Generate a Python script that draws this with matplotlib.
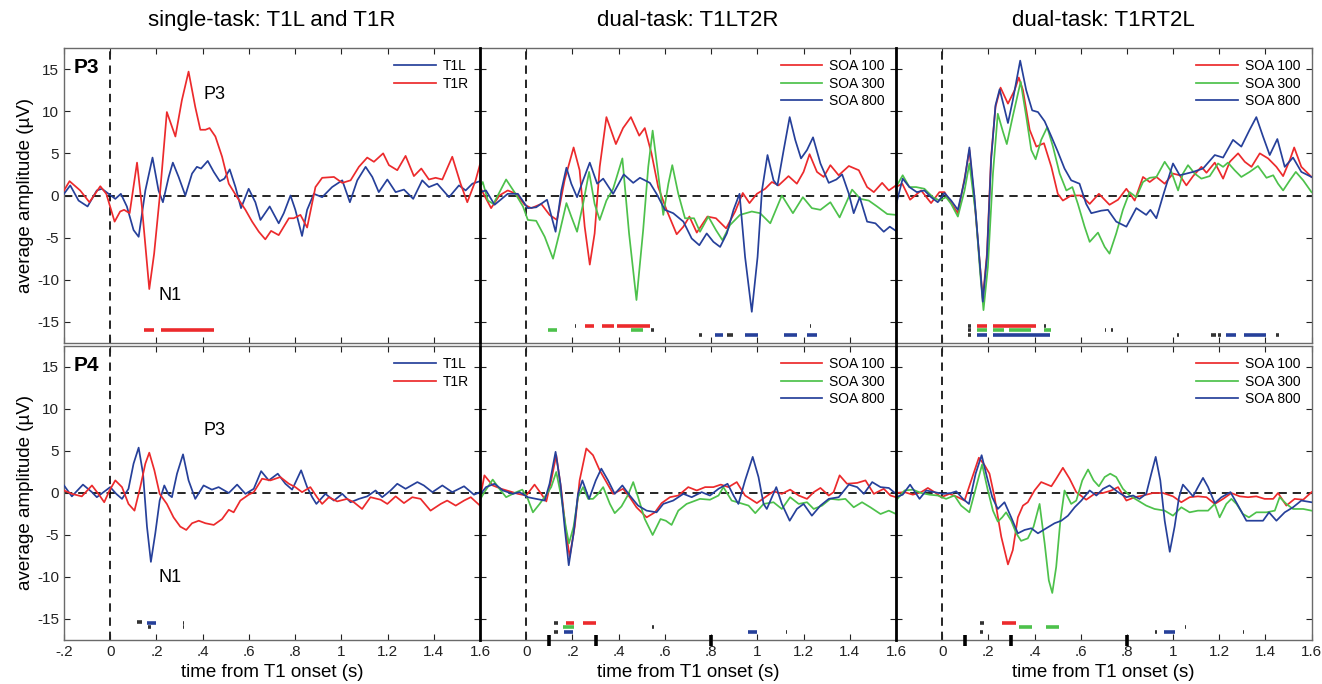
import numpy as np
import matplotlib
matplotlib.use("Agg")
import matplotlib.pyplot as plt

plt.rcParams['font.family'] = ['Liberation Sans', 'DejaVu Sans']

# ---------------- datos (t en s, amplitud en uV) ----------------
# P3, tarea simple
p3_single_t1l = [(-0.2, 0.2), (-0.173, 1.2), (-0.137, -0.6), (-0.098, -1.3), (-0.058, 0.6), (-0.036, 0.8),
                 (-0.007, 0.2), (0.022, -0.4), (0.046, 0.2), (0.072, -1.3), (0.101, -4.1), (0.123, -4.9),
                 (0.152, 0.6), (0.183, 4.5), (0.209, 0.6), (0.228, -0.8), (0.253, 2.2), (0.271, 3.9),
                 (0.296, 2.2), (0.325, 0.0), (0.354, 2.6), (0.375, 3.4), (0.393, 3.2), (0.422, 4.1),
                 (0.448, 2.8), (0.474, 1.7), (0.494, 2.0), (0.517, 3.1), (0.542, 1.0), (0.566, -1.5),
                 (0.599, 0.8), (0.628, -0.8), (0.65, -2.9), (0.69, -1.3), (0.729, -3.3), (0.751, -2.1),
                 (0.78, 0.0), (0.801, -1.7), (0.83, -4.8), (0.852, -1.7), (0.881, 0.2), (0.917, -0.2),
                 (0.96, 1.0), (1.004, 1.8), (1.037, -0.8), (1.069, 1.8), (1.105, 3.4), (1.134, 2.2),
                 (1.162, 0.4), (1.199, 1.9), (1.235, 0.4), (1.271, 0.7), (1.311, -0.4), (1.35, 1.8),
                 (1.379, 1.0), (1.415, 1.4), (1.466, -0.2), (1.509, 1.2), (1.538, 0.6), (1.567, 1.4),
                 (1.6, 1.7)]
p3_single_t1r = [(-0.2, 0.6), (-0.176, 1.7), (-0.13, 0.6), (-0.09, -0.8), (-0.043, 1.1), (-0.017, 0.2),
                 (0.019, -3.1), (0.043, -1.9), (0.06, -1.7), (0.084, -2.1), (0.116, 3.9), (0.137, -1.3),
                 (0.169, -11.1), (0.19, -6.9), (0.214, -0.2), (0.245, 9.9), (0.282, 7.0), (0.31, 11.3),
                 (0.339, 14.7), (0.368, 10.5), (0.39, 7.8), (0.412, 7.8), (0.43, 8.0), (0.455, 7.0),
                 (0.484, 4.6), (0.513, 1.4), (0.549, -0.2), (0.585, -1.7), (0.614, -3.1), (0.643, -4.3),
                 (0.671, -5.2), (0.696, -4.2), (0.729, -4.7), (0.773, -2.7), (0.794, -2.7), (0.823, -2.3),
                 (0.852, -3.8), (0.888, 1.0), (0.917, 2.1), (0.968, 2.2), (1.004, 1.5), (1.04, 1.8),
                 (1.076, 3.4), (1.112, 4.5), (1.141, 4.0), (1.181, 5.0), (1.206, 3.6), (1.242, 3.0),
                 (1.278, 4.7), (1.314, 2.3), (1.346, 3.2), (1.379, 1.9), (1.408, 2.1), (1.437, 1.9),
                 (1.48, 4.6), (1.516, 1.4), (1.545, -0.8), (1.581, 1.8), (1.6, 3.7)]

# P3, doble tarea T1LT2R
p3_lr_soa100 = [(-0.2, 1.0), (-0.152, -1.5), (-0.116, 0.0), (-0.08, 0.6), (-0.043, 0.2), (-0.007, -1.1),
                (0.022, -1.5), (0.065, -1.0), (0.101, -2.3), (0.133, -2.9), (0.166, 1.8), (0.205, 5.7),
                (0.231, 3.0), (0.253, -3.7), (0.275, -8.2), (0.296, -4.5), (0.318, 3.4), (0.347, 9.3),
                (0.388, 6.1), (0.419, 8.0), (0.453, 9.3), (0.489, 7.1), (0.513, 8.0), (0.542, 5.0),
                (0.571, 1.0), (0.607, -1.7), (0.651, -4.6), (0.68, -3.7), (0.706, -2.5), (0.738, -4.4),
                (0.784, -2.5), (0.821, -2.7), (0.865, -3.9), (0.904, -1.9), (0.937, 0.3), (0.966, -0.9),
                (0.998, 0.2), (1.034, 0.8), (1.063, 1.6), (1.092, 1.2), (1.135, 2.3), (1.171, 1.4),
                (1.2, 2.8), (1.226, 4.9), (1.258, 2.8), (1.287, 2.2), (1.316, 3.6), (1.352, 2.4),
                (1.396, 3.5), (1.439, 3.0), (1.475, 1.0), (1.504, 0.4), (1.54, 1.5), (1.569, 0.6),
                (1.6, 1.2)]
p3_lr_soa300 = [(-0.2, 1.0), (-0.188, 1.6), (-0.166, -0.6), (-0.142, -1.0), (-0.087, 1.9), (-0.051, 0.4),
                (-0.014, -1.3), (0.007, -2.9), (0.043, -3.0), (0.08, -4.9), (0.116, -7.5), (0.145, -4.3),
                (0.174, -0.9), (0.195, -2.5), (0.22, -4.3), (0.246, -1.0), (0.272, 2.8), (0.296, -1.0),
                (0.318, -2.9), (0.347, -0.6), (0.376, 0.8), (0.416, 4.4), (0.445, -4.5), (0.477, -12.4),
                (0.506, -4.1), (0.528, 3.4), (0.547, 7.7), (0.567, 3.4), (0.593, -2.3), (0.615, 1.4),
                (0.632, 3.6), (0.658, 0.2), (0.687, -2.7), (0.726, -2.7), (0.752, -4.3), (0.788, -2.5),
                (0.821, -4.1), (0.849, -5.3), (0.882, -3.5), (0.925, -2.3), (0.976, -1.9), (1.012, -2.1),
                (1.056, -3.3), (1.106, 0.0), (1.154, -2.1), (1.197, -0.2), (1.236, -1.5), (1.273, -1.7),
                (1.316, -0.8), (1.356, -2.6), (1.41, 0.7), (1.446, -0.4), (1.482, -0.6), (1.518, -1.3),
                (1.562, -2.2), (1.6, -2.3)]
p3_lr_soa800 = [(-0.2, 0.4), (-0.174, 0.6), (-0.137, -1.1), (-0.08, 0.2), (-0.036, 0.2), (0.007, -1.5),
                (0.043, -1.4), (0.09, -0.5), (0.127, -4.3), (0.152, 0.6), (0.174, 3.3), (0.195, 1.4),
                (0.22, -0.2), (0.246, 1.8), (0.275, 3.9), (0.307, 1.4), (0.333, 2.0), (0.376, 0.2),
                (0.422, 2.5), (0.463, 1.5), (0.492, 2.1), (0.535, 1.5), (0.564, 0.2), (0.6, -1.7),
                (0.636, -2.1), (0.68, -3.1), (0.716, -5.1), (0.749, -5.9), (0.781, -4.5), (0.81, -5.5),
                (0.839, -6.1), (0.868, -4.5), (0.897, -1.7), (0.923, 0.2), (0.947, -7.3), (0.976, -13.8),
                (1.001, -7.3), (1.02, 0.6), (1.044, 4.8), (1.07, 1.8), (1.087, 1.2), (1.114, 5.4),
                (1.14, 9.3), (1.164, 6.6), (1.189, 4.4), (1.215, 5.4), (1.241, 6.9), (1.273, 3.8),
                (1.309, 1.5), (1.342, 1.9), (1.367, 2.5), (1.396, 0.2), (1.417, -2.1), (1.443, -0.2),
                (1.475, -3.1), (1.511, -3.3), (1.547, -4.3), (1.573, -3.7), (1.6, -4.2)]

# P3, doble tarea T1RT2L
p3_rl_soa100 = [(-0.2, 1.0), (-0.173, 1.4), (-0.139, -0.5), (-0.091, 0.6), (-0.048, -0.9), (-0.012, 0.4),
                (0.01, 0.4), (0.032, -0.6), (0.068, -2.1), (0.101, 2.6), (0.118, 5.4), (0.14, -0.6),
                (0.162, -7.7), (0.176, -12.2), (0.194, -6.9), (0.212, 4.6), (0.231, 10.5), (0.253, 12.8),
                (0.285, 10.9), (0.314, 12.5), (0.332, 14.0), (0.35, 12.5), (0.379, 7.8), (0.408, 5.8),
                (0.441, 6.2), (0.473, 3.4), (0.501, 0.2), (0.523, -0.6), (0.559, 0.0), (0.603, 0.0),
                (0.639, -1.0), (0.679, 0.2), (0.725, -1.1), (0.762, -0.5), (0.798, 0.8), (0.834, -0.6),
                (0.87, 2.2), (0.899, 1.6), (0.928, 2.2), (0.964, 1.4), (1.0, 2.6), (1.029, 2.4),
                (1.058, 1.2), (1.087, 2.3), (1.123, 3.4), (1.145, 2.7), (1.181, 3.9), (1.217, 2.0),
                (1.246, 4.0), (1.282, 5.0), (1.311, 4.0), (1.34, 3.4), (1.376, 5.0), (1.412, 4.4),
                (1.448, 3.4), (1.477, 2.3), (1.506, 4.2), (1.525, 5.7), (1.556, 3.4), (1.6, 2.2)]
p3_rl_soa300 = [(-0.2, 1.0), (-0.171, 2.4), (-0.142, 1.0), (-0.113, 1.0), (-0.077, 0.8), (-0.04, -0.2),
                (-0.012, -0.6), (0.017, -0.2), (0.039, -1.0), (0.068, -2.5), (0.097, 0.6), (0.118, 3.8),
                (0.145, -2.1), (0.165, -9.3), (0.179, -13.6), (0.198, -8.5), (0.22, 2.6), (0.241, 9.7),
                (0.263, 7.6), (0.28, 6.1), (0.306, 9.4), (0.34, 13.5), (0.364, 9.4), (0.386, 5.4),
                (0.405, 4.3), (0.429, 6.6), (0.455, 8.1), (0.48, 5.8), (0.509, 2.6), (0.538, 0.6),
                (0.564, 1.0), (0.588, -1.0), (0.617, -3.7), (0.639, -5.5), (0.675, -4.4), (0.704, -6.1),
                (0.725, -6.9), (0.754, -4.5), (0.783, -1.7), (0.812, 0.4), (0.841, -0.2), (0.87, 1.6),
                (0.899, 2.1), (0.928, 2.2), (0.964, 4.0), (0.993, 2.8), (1.022, 0.6), (1.043, 2.6),
                (1.065, 3.6), (1.094, 2.6), (1.123, 2.0), (1.159, 2.3), (1.195, 3.8), (1.217, 3.4),
                (1.238, 3.9), (1.267, 3.0), (1.296, 2.2), (1.332, 2.8), (1.368, 3.5), (1.405, 2.1),
                (1.434, 2.4), (1.455, 1.4), (1.477, 0.6), (1.506, 1.8), (1.532, 2.8), (1.564, 1.8),
                (1.6, 0.4)]
p3_rl_soa800 = [(-0.2, -1.1), (-0.171, 2.0), (-0.142, 1.0), (-0.11, 0.4), (-0.077, 0.6), (-0.048, -0.2),
                (-0.019, -0.8), (0.01, 0.3), (0.039, -0.6), (0.068, -1.7), (0.097, 1.8), (0.118, 5.7),
                (0.14, -0.2), (0.162, -7.7), (0.176, -12.6), (0.194, -7.3), (0.212, 4.2), (0.231, 10.7),
                (0.249, 12.6), (0.27, 10.3), (0.285, 8.6), (0.306, 11.3), (0.338, 16.0), (0.364, 12.5),
                (0.39, 10.1), (0.415, 9.9), (0.444, 8.8), (0.473, 7.0), (0.501, 5.2), (0.53, 3.2),
                (0.559, 1.8), (0.595, 1.4), (0.624, -1.0), (0.646, -2.1), (0.689, -1.8), (0.718, -1.7),
                (0.754, -3.1), (0.798, -3.7), (0.841, -1.5), (0.884, -2.3), (0.902, -1.7), (0.928, -2.7),
                (0.957, 0.0), (1.0, 3.8), (1.029, 2.4), (1.058, 2.6), (1.087, 2.8), (1.13, 3.2),
                (1.181, 4.8), (1.217, 4.5), (1.26, 6.6), (1.296, 5.8), (1.332, 7.8), (1.361, 9.3),
                (1.39, 7.0), (1.419, 4.8), (1.452, 6.7), (1.484, 3.4), (1.52, 4.5), (1.556, 2.8),
                (1.6, 2.2)]

# P4, tarea simple
p4_single_t1l = [(-0.2, 0.9), (-0.166, -0.4), (-0.118, 1.0), (-0.079, 0.1), (-0.058, -0.5), (-0.029, 0.1),
                 (0.0, 0.7), (0.026, -0.1), (0.051, -0.7), (0.079, 0.5), (0.101, 3.5), (0.123, 5.4),
                 (0.142, 2.3), (0.159, -4.0), (0.176, -8.2), (0.195, -4.8), (0.214, -0.9), (0.234, 0.9),
                 (0.253, -0.2), (0.267, -0.5), (0.289, 2.3), (0.315, 4.6), (0.339, 1.5), (0.368, -0.7),
                 (0.404, 0.9), (0.44, 0.4), (0.469, 0.7), (0.513, 0.0), (0.549, 1.0), (0.585, -0.1),
                 (0.621, 0.5), (0.653, 2.6), (0.686, 1.5), (0.725, 2.3), (0.758, 1.1), (0.787, 0.4),
                 (0.826, 2.7), (0.852, 0.7), (0.874, -0.5), (0.892, -1.3), (0.931, -0.1), (0.968, -0.9),
                 (1.004, -0.1), (1.04, -1.1), (1.076, -0.7), (1.112, -0.4), (1.148, 0.3), (1.177, -0.5),
                 (1.213, 0.3), (1.242, 1.1), (1.278, 0.5), (1.329, 1.3), (1.357, 0.9), (1.394, 0.1),
                 (1.437, 0.9), (1.48, 0.1), (1.531, 0.8), (1.574, -0.2), (1.6, 0.1)]
p4_single_t1r = [(-0.2, 0.3), (-0.166, -0.1), (-0.123, -0.4), (-0.079, 0.9), (-0.046, -0.3), (-0.026, -1.1),
                 (-0.003, 0.3), (0.022, 1.5), (0.051, 0.7), (0.079, -1.3), (0.105, -2.1), (0.13, 0.7),
                 (0.152, 3.5), (0.169, 4.8), (0.191, 2.7), (0.214, -0.1), (0.245, -1.3), (0.274, -2.9),
                 (0.303, -4.0), (0.329, -4.4), (0.354, -3.6), (0.383, -3.3), (0.412, -3.6), (0.448, -3.8),
                 (0.484, -3.1), (0.513, -2.0), (0.534, -2.3), (0.563, -0.9), (0.599, -0.2), (0.621, 0.1),
                 (0.657, 1.7), (0.693, 1.5), (0.736, 1.9), (0.773, 1.1), (0.801, 0.7), (0.83, 0.1),
                 (0.866, 0.7), (0.895, -0.5), (0.917, -1.3), (0.946, -0.5), (0.982, -1.0), (1.025, -0.7),
                 (1.054, -1.1), (1.09, -1.9), (1.126, -0.5), (1.17, -0.8), (1.199, -1.3), (1.235, -0.4),
                 (1.271, -1.2), (1.307, -0.5), (1.343, -0.7), (1.386, -2.1), (1.43, -1.3), (1.458, -0.9),
                 (1.495, -1.5), (1.531, -0.9), (1.56, -0.5), (1.6, -1.5)]

# P4, doble tarea T1LT2R
p4_lr_soa100 = [(-0.2, -0.7), (-0.181, 2.1), (-0.145, 0.9), (-0.108, 0.5), (-0.072, 0.2), (-0.036, -0.1),
                (0.0, -0.3), (0.036, 1.0), (0.065, -0.1), (0.087, -1.0), (0.108, 1.5), (0.13, 4.5),
                (0.152, 0.3), (0.171, -4.4), (0.188, -7.6), (0.21, -4.0), (0.231, 1.5), (0.26, 5.3),
                (0.289, 4.5), (0.318, 2.7), (0.347, 1.3), (0.376, -0.1), (0.419, 0.5), (0.448, -0.5),
                (0.477, -1.7), (0.521, -2.9), (0.557, -2.3), (0.586, -1.2), (0.622, -0.5), (0.658, -0.3),
                (0.701, 0.7), (0.738, 0.3), (0.774, 0.7), (0.81, 0.7), (0.842, 1.0), (0.875, 0.7),
                (0.911, 1.3), (0.947, -0.3), (0.998, -1.2), (1.034, -0.5), (1.07, 0.2), (1.106, -0.1),
                (1.142, 0.4), (1.179, -0.3), (1.215, -0.7), (1.244, 0.1), (1.273, 0.6), (1.309, -0.3),
                (1.33, 0.1), (1.356, 2.1), (1.388, 1.1), (1.432, 1.2), (1.468, 1.5), (1.504, -0.1),
                (1.547, 0.5), (1.576, -0.3), (1.6, -0.5)]
p4_lr_soa300 = [(-0.2, -0.8), (-0.181, 0.1), (-0.145, 1.6), (-0.116, 0.5), (-0.087, -0.5), (-0.051, 0.0),
                (-0.017, 0.4), (0.007, -0.7), (0.029, -2.3), (0.058, -1.3), (0.087, -0.2), (0.108, 0.7),
                (0.13, 2.5), (0.152, -0.5), (0.171, -4.0), (0.185, -6.0), (0.205, -4.0), (0.224, -0.5),
                (0.246, 0.7), (0.268, -0.7), (0.289, -0.7), (0.311, -0.1), (0.333, 0.7), (0.362, -1.3),
                (0.383, -2.4), (0.412, -1.6), (0.441, -0.2), (0.463, 1.3), (0.484, -0.5), (0.513, -3.1),
                (0.547, -5.0), (0.581, -3.1), (0.604, -3.3), (0.629, -3.8), (0.658, -2.1), (0.694, -1.3),
                (0.752, -0.7), (0.795, -0.8), (0.832, -0.3), (0.853, 0.7), (0.889, -0.9), (0.926, -1.2),
                (0.962, -1.5), (0.991, -2.4), (1.027, -1.3), (1.07, -1.1), (1.106, -1.9), (1.142, -0.5),
                (1.179, -1.3), (1.215, -1.1), (1.244, -1.9), (1.28, -1.5), (1.316, -0.7), (1.352, -0.8),
                (1.381, -0.7), (1.417, -1.7), (1.453, -1.1), (1.489, -1.7), (1.533, -2.5), (1.569, -2.1),
                (1.6, -2.5)]
p4_lr_soa800 = [(-0.2, -0.2), (-0.174, 0.7), (-0.137, 1.1), (-0.101, 0.3), (-0.058, -0.1), (-0.029, 0.1),
                (0.007, -0.5), (0.043, -0.7), (0.08, -0.9), (0.101, 1.1), (0.127, 4.9), (0.148, 1.1),
                (0.166, -4.0), (0.184, -8.6), (0.205, -4.8), (0.224, -0.1), (0.243, 1.5), (0.272, -0.7),
                (0.301, 1.5), (0.325, 2.9), (0.354, 1.5), (0.383, -0.1), (0.416, 0.9), (0.448, -0.3),
                (0.484, -1.5), (0.521, -2.1), (0.564, -2.3), (0.593, -1.3), (0.636, -0.9), (0.68, -0.1),
                (0.716, -0.5), (0.759, 0.1), (0.795, -0.3), (0.832, 0.5), (0.871, 1.1), (0.897, -0.3),
                (0.918, -1.3), (0.947, 1.5), (0.98, 4.3), (1.005, 1.9), (1.027, -1.3), (1.041, -1.9),
                (1.063, -0.5), (1.082, 0.7), (1.106, -1.3), (1.14, -3.3), (1.171, -1.9), (1.2, -1.3),
                (1.236, -2.7), (1.273, -1.5), (1.309, -0.7), (1.352, -0.5), (1.396, 1.0), (1.432, 0.7),
                (1.461, -0.1), (1.497, 1.3), (1.533, 0.7), (1.569, 0.6), (1.6, -0.1)]

# P4, doble tarea T1RT2L
p4_rl_soa100 = [(-0.2, 0.0), (-0.163, 0.1), (-0.127, -0.2), (-0.091, 0.1), (-0.062, 0.6), (-0.033, 0.1),
                (-0.004, -0.5), (0.032, -0.1), (0.068, -0.5), (0.097, -0.9), (0.126, 1.5), (0.159, 4.2),
                (0.184, 3.3), (0.205, 2.3), (0.227, -0.5), (0.256, -5.2), (0.285, -8.5), (0.306, -6.8),
                (0.328, -2.9), (0.35, -1.5), (0.371, -1.1), (0.4, 0.3), (0.429, 1.3), (0.473, 0.8),
                (0.494, 1.7), (0.523, 3.0), (0.552, 1.7), (0.581, 0.1), (0.624, -0.8), (0.66, -0.1),
                (0.697, 0.0), (0.733, 0.3), (0.762, 0.7), (0.798, -0.9), (0.834, -0.5), (0.87, -0.3),
                (0.913, 0.0), (0.957, 0.0), (1.0, -0.4), (1.036, -1.1), (1.072, -0.5), (1.108, -0.4),
                (1.145, -0.5), (1.181, -1.3), (1.217, -0.7), (1.253, 0.0), (1.289, -0.4), (1.325, -0.5),
                (1.361, -0.4), (1.397, -0.7), (1.434, -0.7), (1.455, 0.0), (1.491, -1.5), (1.527, -0.7),
                (1.564, -0.8), (1.6, 0.1)]
p4_rl_soa300 = [(-0.2, -0.9), (-0.163, 0.3), (-0.127, 0.4), (-0.091, 0.0), (-0.055, -0.2), (-0.019, -0.3),
                (0.017, -0.7), (0.053, -0.3), (0.082, -1.5), (0.118, -2.3), (0.147, 0.7), (0.173, 3.4),
                (0.198, 0.3), (0.22, -2.1), (0.241, -3.4), (0.26, -2.9), (0.277, -2.3), (0.299, -3.3),
                (0.321, -4.8), (0.342, -5.7), (0.371, -5.4), (0.396, -4.0), (0.422, -1.3), (0.444, -6.0),
                (0.462, -10.4), (0.477, -11.9), (0.494, -8.8), (0.512, -3.3), (0.53, 0.3), (0.559, -1.3),
                (0.581, -0.9), (0.607, 1.5), (0.632, 2.8), (0.656, 1.5), (0.679, 0.8), (0.704, 1.9),
                (0.728, 2.3), (0.754, 1.9), (0.783, 0.5), (0.812, -0.3), (0.848, -0.9), (0.884, -1.5),
                (0.92, -1.9), (0.964, -2.1), (1.0, -2.7), (1.036, -1.7), (1.072, -2.3), (1.108, -2.1),
                (1.152, -2.1), (1.181, -1.3), (1.202, -2.9), (1.231, -1.3), (1.253, -0.7), (1.275, -1.3),
                (1.303, -2.5), (1.329, -2.9), (1.361, -2.3), (1.405, -2.3), (1.441, -2.1), (1.462, -0.5),
                (1.491, -1.3), (1.52, -1.9), (1.564, -1.9), (1.6, -2.1)]
p4_rl_soa800 = [(-0.2, -0.5), (-0.171, -0.2), (-0.139, 1.0), (-0.098, -0.7), (-0.069, 0.3), (-0.033, 0.1),
                (0.003, -0.1), (0.039, 0.0), (0.061, 0.2), (0.09, -0.7), (0.116, -1.3), (0.145, 2.3),
                (0.171, 4.5), (0.194, 1.9), (0.217, -0.5), (0.241, -1.9), (0.27, -1.1), (0.299, -2.9),
                (0.328, -4.8), (0.357, -4.4), (0.386, -4.2), (0.415, -4.8), (0.451, -4.2), (0.487, -3.6),
                (0.516, -3.3), (0.545, -2.7), (0.574, -1.7), (0.603, -0.9), (0.639, 0.3), (0.668, -0.3),
                (0.697, 0.5), (0.725, 0.9), (0.762, 0.1), (0.798, -0.5), (0.827, -0.3), (0.855, -0.7),
                (0.884, -0.1), (0.906, 2.3), (0.925, 4.3), (0.945, 1.5), (0.964, -3.3), (0.986, -7.0),
                (1.007, -4.0), (1.026, -0.5), (1.043, 1.0), (1.065, 0.3), (1.087, -0.4), (1.108, 0.7),
                (1.13, 1.8), (1.152, 0.7), (1.181, -1.2), (1.21, -0.5), (1.249, 0.1), (1.282, -1.5),
                (1.318, -3.3), (1.361, -3.3), (1.39, -3.3), (1.416, -2.3), (1.448, -3.3), (1.484, -2.3),
                (1.52, -1.7), (1.556, -0.9), (1.6, -1.1)]

# barras de significacion: (t inicio, t fin, nivel, color)
p3_single_bars = [(0.148, 0.190, -16.0, 'r'), (0.219, 0.451, -16.0, 'r')]
p3_lr_bars = [(0.094, 0.133, -16.0, 'g'), (0.209, 0.217, -15.5, 'k'), (0.256, 0.294, -15.5, 'r'),
              (0.326, 0.380, -15.5, 'r'), (0.393, 0.535, -15.5, 'r'), (0.455, 0.506, -16.0, 'g'),
              (0.538, 0.555, -16.0, 'k'), (0.737, 0.741, -15.5, 'k'), (0.748, 0.760, -16.5, 'k'),
              (0.816, 0.852, -16.5, 'b'), (0.867, 0.896, -16.5, 'k'), (0.946, 1.003, -16.5, 'b'),
              (1.116, 1.172, -16.5, 'b'), (1.230, 1.234, -15.5, 'k'), (1.216, 1.259, -16.5, 'b')]
p3_rl_bars = [(0.111, 0.126, -15.5, 'k'), (0.111, 0.126, -16.0, 'k'), (0.111, 0.126, -16.5, 'k'),
              (0.151, 0.195, -15.5, 'r'), (0.151, 0.195, -16.0, 'g'), (0.151, 0.195, -16.5, 'b'),
              (0.219, 0.407, -15.5, 'r'), (0.219, 0.270, -16.0, 'g'), (0.291, 0.385, -16.0, 'g'),
              (0.443, 0.472, -16.0, 'g'), (0.219, 0.465, -16.5, 'b'), (0.443, 0.448, -15.5, 'k'),
              (0.705, 0.709, -16.0, 'k'), (0.730, 0.738, -16.0, 'k'), (1.018, 1.028, -16.5, 'k'),
              (1.164, 1.186, -16.5, 'k'), (1.197, 1.208, -16.5, 'k'), (1.229, 1.275, -16.5, 'b'),
              (1.309, 1.403, -16.5, 'b'), (1.446, 1.460, -16.5, 'k')]
p4_single_bars = [(0.116, 0.137, -15.4, 'k'), (0.159, 0.199, -15.5, 'b'), (0.163, 0.177, -15.9, 'k'),
                  (0.314, 0.320, -15.5, 'k'), (0.314, 0.320, -15.9, 'k')]
p4_lr_bars = [(0.119, 0.138, -15.5, 'k'), (0.120, 0.138, -16.5, 'k'), (0.170, 0.207, -15.5, 'r'),
              (0.159, 0.207, -16.0, 'g'), (0.165, 0.203, -16.5, 'b'), (0.246, 0.304, -15.5, 'r'),
              (0.544, 0.554, -16.0, 'k'), (0.960, 0.997, -16.5, 'b'), (1.125, 1.128, -16.5, 'k')]
p4_rl_bars = [(0.164, 0.182, -15.5, 'k'), (0.164, 0.177, -16.5, 'k'), (0.258, 0.320, -15.5, 'r'),
              (0.332, 0.390, -16.0, 'g'), (0.450, 0.508, -16.0, 'g'), (0.921, 0.931, -16.5, 'k'),
              (0.962, 1.008, -16.5, 'b'), (1.052, 1.055, -16.0, 'k'), (1.180, 1.184, -16.0, 'k'),
              (1.302, 1.306, -16.5, 'k')]

# inicio de T2 (SOA) en s
soa_onsets = [0.1, 0.3, 0.8]

titles = ["single-task: T1L and T1R", "dual-task: T1LT2R", "dual-task: T1RT2L"]
xticks = [-0.2, 0, 0.2, 0.4, 0.6, 0.8, 1.0, 1.2, 1.4, 1.6]
yticks = [-15, -10, -5, 0, 5, 10, 15]

ROJO = '#ec2a2c'
VERDE = '#4dc14b'
AZUL = '#26409a'
NEGRO = '#333333'
colores = {'r': ROJO, 'g': VERDE, 'b': AZUL, 'k': NEGRO}


def etiqueta(x):
    if abs(x) < 1e-9:
        return '0'
    s = f'{x:g}'
    return s.replace('0.', '.')


fig = plt.figure(figsize=(13.22, 6.84), dpi=100)
W, H = 1322.0, 684.0
col_x = [64, 480, 896]
col_w = [416, 416, 415.5]
row_y = [(48, 343), (346, 640)]

axes = [[None] * 3 for _ in range(2)]
for r in range(2):
    for c in range(3):
        top, bot = row_y[r]
        axes[r][c] = fig.add_axes([col_x[c] / W, 1 - bot / H, col_w[c] / W, (bot - top) / H])

paneles = [
    [([p3_single_t1l, p3_single_t1r], ['T1L', 'T1R'], [AZUL, ROJO], p3_single_bars),
     ([p3_lr_soa100, p3_lr_soa300, p3_lr_soa800], ['SOA 100', 'SOA 300', 'SOA 800'], [ROJO, VERDE, AZUL], p3_lr_bars),
     ([p3_rl_soa100, p3_rl_soa300, p3_rl_soa800], ['SOA 100', 'SOA 300', 'SOA 800'], [ROJO, VERDE, AZUL], p3_rl_bars)],
    [([p4_single_t1l, p4_single_t1r], ['T1L', 'T1R'], [AZUL, ROJO], p4_single_bars),
     ([p4_lr_soa100, p4_lr_soa300, p4_lr_soa800], ['SOA 100', 'SOA 300', 'SOA 800'], [ROJO, VERDE, AZUL], p4_lr_bars),
     ([p4_rl_soa100, p4_rl_soa300, p4_rl_soa800], ['SOA 100', 'SOA 300', 'SOA 800'], [ROJO, VERDE, AZUL], p4_rl_bars)],
]

for r in range(2):
    for c in range(3):
        ax = axes[r][c]
        curvas, nombres, cols, barras = paneles[r][c]
        ax.axhline(0, color='k', lw=1.2, dashes=(5, 3.5), zorder=1)
        ax.axvline(0, color='k', lw=1.2, dashes=(5, 3.5), zorder=1)
        for datos, nom, col in zip(curvas, nombres, cols):
            d = np.array(datos)
            ax.plot(d[:, 0], d[:, 1], color=col, lw=1.25, label=nom, zorder=3,
                    solid_joinstyle='round')
        for t0, t1, lev, ck in barras:
            ax.plot([t0, t1], [lev, lev], color=colores[ck], lw=2.6, solid_capstyle='butt', zorder=4)
        if r == 1 and c > 0:
            for s in soa_onsets:
                ax.plot([s, s], [-16.9, -18.2], color='k', lw=2.6, solid_capstyle='butt',
                        clip_on=False, zorder=6)

        ax.set_xlim(-0.2, 1.6)
        ax.set_ylim(-17.5, 17.5)
        ax.set_xticks(xticks)
        ax.set_yticks(yticks)
        ax.tick_params(direction='in', top=True, right=True, length=4, width=0.8,
                       labelsize=11, colors='#222222')
        if r == 1:
            labs = [etiqueta(x) for x in xticks]
            if c > 0:
                labs[0] = ''
            ax.set_xticklabels(labs)
            ax.set_xlabel("time from T1 onset (s)", fontsize=13.5, labelpad=4)
        else:
            ax.set_xticklabels([])
            ax.set_title(titles[c], fontsize=16, pad=16)
        if c == 0:
            ax.set_yticklabels([etiqueta(y) for y in yticks])
            ax.set_ylabel("average amplitude (µV)", fontsize=13.5, labelpad=2)
        else:
            ax.set_yticklabels([])

        for sp in ax.spines.values():
            sp.set_color('#6a6a6a')
            sp.set_linewidth(1.0)
        if c > 0:
            ax.spines['left'].set_color('k')
            ax.spines['left'].set_linewidth(2.0)
            ax.spines['left'].set_zorder(7)

        ax.legend(loc='upper right', frameon=False, fontsize=10, handlelength=3.0,
                  labelspacing=0.25, handletextpad=0.5, borderaxespad=0.4)

# etiquetas de electrodo y componentes
axes[0][0].text(0.024, 0.965, 'P3', transform=axes[0][0].transAxes, fontsize=15,
                fontweight='bold', va='top', ha='left')
axes[1][0].text(0.024, 0.965, 'P4', transform=axes[1][0].transAxes, fontsize=15,
                fontweight='bold', va='top', ha='left')
axes[0][0].text(0.452, 12.0, 'P3', fontsize=13, ha='center', va='center')
axes[0][0].text(0.258, -11.9, 'N1', fontsize=13, ha='center', va='center')
axes[1][0].text(0.452, 7.4, 'P3', fontsize=13, ha='center', va='center')
axes[1][0].text(0.258, -10.1, 'N1', fontsize=13, ha='center', va='center')

fig.savefig('out.png', dpi=100)
